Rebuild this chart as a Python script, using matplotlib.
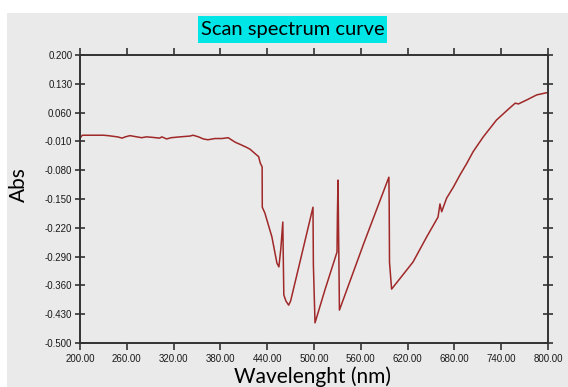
"""
Scan spectrum curve - absorbance vs wavelength.
"""
import matplotlib
matplotlib.use("Agg")
import matplotlib.pyplot as plt
from matplotlib.patches import Rectangle

# valores
wavelength = [
    200, 203, 210, 220, 230, 236, 240, 248, 254, 258, 264, 270, 279, 285,
    292, 302, 305, 311, 317, 328, 341, 345, 352, 358, 364, 373, 382, 390,
    394, 399, 405, 413, 418, 424, 429, 431, 433.5,
    433.7, 437, 446, 452.5, 455, 457.5, 460, 460.6, 461.3, 464, 467.5, 470,
    482, 498.7, 499.2, 501.3, 514, 529.5, 530, 530.8, 532.6, 564, 596,
    596.4, 596.8, 599.5, 627, 644.5, 659, 661.5, 663.7, 670, 679, 687, 696,
    704, 717, 734, 749, 758, 762, 773, 785.5, 800,
]
absorbance = [
    -0.002, 0.005, 0.005, 0.005, 0.005, 0.004, 0.003, 0.001, -0.002, 0.001,
    0.004, 0.002, -0.001, 0.001, 0.000, -0.002, 0.001, -0.004, -0.001,
    0.001, 0.003, 0.005, 0.001, -0.004, -0.006, -0.003, -0.003, -0.001,
    -0.006, -0.012, -0.017, -0.024, -0.029, -0.039, -0.047, -0.062, -0.072,
    -0.170, -0.184, -0.242, -0.306, -0.315, -0.270, -0.206, -0.290, -0.383,
    -0.398, -0.408, -0.398,
    -0.303, -0.170, -0.310, -0.451, -0.371, -0.279, -0.190, -0.104, -0.420,
    -0.257, -0.097,
    -0.165, -0.304, -0.369, -0.303, -0.242, -0.194, -0.162, -0.181, -0.148,
    -0.120, -0.092, -0.063,
    -0.035, 0.001, 0.042, 0.068, 0.083, 0.081, 0.091, 0.103, 0.109,
]

x_ticks = [200, 260, 320, 380, 440, 500, 560, 620, 680, 740, 800]
y_ticks = [0.200, 0.130, 0.060, -0.010, -0.080, -0.150, -0.220, -0.290,
           -0.360, -0.430, -0.500]

BG = "#eaeaea"
SPINE = "#333333"

fig = plt.figure(figsize=(5.68, 3.87), dpi=100, facecolor="white")
fig.patches.append(Rectangle((7 / 568, 0), 1, 1 - 13 / 387,
                             transform=fig.transFigure, facecolor=BG,
                             edgecolor="none", zorder=-10))
# caixa ciano do título
fig.patches.append(Rectangle((198 / 568, 1 - 43 / 387), 189 / 568, 27 / 387,
                             transform=fig.transFigure, facecolor="#00e5e5",
                             edgecolor="none", zorder=-5))

ax = fig.add_axes([80 / 568, 1 - 343 / 387, 468 / 568, 288 / 387])
ax.set_facecolor(BG)
ax.plot(wavelength, absorbance, color="#a02828", linewidth=1.1)

ax.set_xlim(200, 800)
ax.set_ylim(-0.5, 0.2)
ax.set_xticks(x_ticks)
ax.set_xticklabels([f"{v:.2f}" for v in x_ticks])
ax.set_yticks(y_ticks)
ax.set_yticklabels([f"{v:.3f}" for v in y_ticks])

for s in ax.spines.values():
    s.set_color(SPINE)
    s.set_linewidth(1.4)

ax.tick_params(axis="both", labelsize=7, colors=SPINE, labelcolor="#1a1a1a",
               width=1.2)
ax.tick_params(axis="x", direction="out", length=5, pad=3, top=True)
ax.tick_params(axis="y", direction="inout", length=7, pad=2, right=True)
for lab in ax.get_xticklabels() + ax.get_yticklabels():
    lab.set_family("Liberation Sans")

fig.text(292.5 / 568, 1 - 30 / 387, "Scan spectrum curve", fontsize=14.5,
         family="Lato", ha="center", va="center")
fig.text(312 / 568, 1 - 377 / 387, "Wavelenght (nm)", fontsize=15,
         family="Lato", ha="center", va="center")
fig.text(19 / 568, 1 - 185 / 387, "Abs", fontsize=15, family="Lato",
         rotation=90, ha="center", va="center")

fig.savefig("out.png", dpi=100, facecolor="white")
